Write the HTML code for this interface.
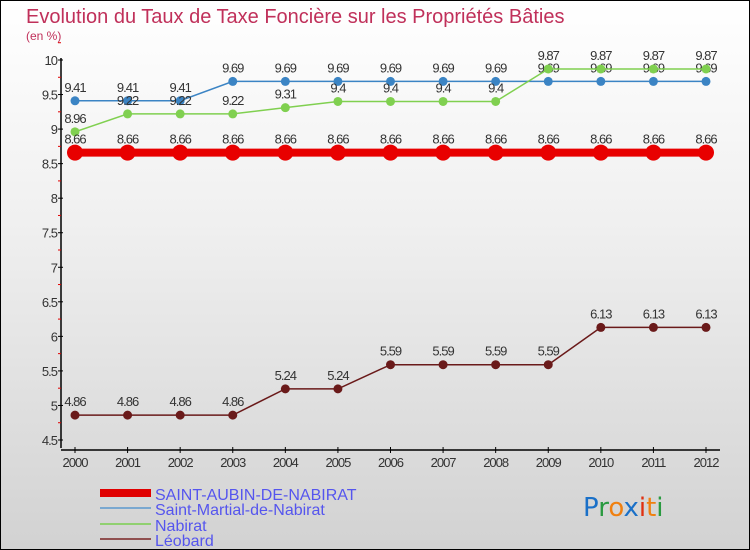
<!DOCTYPE html>
<html><head><meta charset="utf-8"><style>
body{margin:0;}
#c{width:748px;height:548px;border:1px solid #000;background:linear-gradient(#fff 0%,#f0f0f0 40%,#d2d2d2 100%);position:relative;overflow:hidden;font-family:"Liberation Sans",sans-serif;}
</style></head><body>
<div id="c">
<svg id="s" width="750" height="550" style="position:absolute;left:-1px;top:-1px" font-family="Liberation Sans, sans-serif">
<text x="26" y="23" font-size="20" fill="#c0305a">Evolution du Taux de Taxe Foncière sur les Propriétés Bâties</text>
<text x="26" y="40" font-size="12" fill="#c0305a">(en %)</text>
<g id="axes"></g><g id="series"></g>
<g>
<rect x="100" y="489" width="51" height="8" fill="#e00000"/>
<text x="155" y="500" font-size="16" fill="#5555ee">SAINT-AUBIN-DE-NABIRAT</text>
<rect x="100" y="507" width="51" height="2" fill="#7aa8d0"/>
<text x="155" y="515" font-size="16" fill="#5555ee">Saint-Martial-de-Nabirat</text>
<rect x="100" y="523" width="51" height="2" fill="#90d070"/>
<text x="155" y="531" font-size="16" fill="#5555ee">Nabirat</text>
<rect x="100" y="538" width="51" height="2" fill="#905050"/>
<text x="155" y="546" font-size="16" fill="#5555ee">Léobard</text>
</g>
<g font-size="26" font-family="DejaVu Sans, sans-serif">
<text x="583" y="516" fill="#1a70c8">P<tspan fill="#2a9a40">r</tspan><tspan fill="#f08010">o</tspan><tspan fill="#1a70c8">x</tspan><tspan fill="#e03010">i</tspan><tspan fill="#f08010">t</tspan><tspan fill="#2a9a40">i</tspan></text>
</g>
</svg>
</div>
<script>
const years=[2000,2001,2002,2003,2004,2005,2006,2007,2008,2009,2010,2011,2012];
const yTicks=[4.5,5,5.5,6,6.5,7,7.5,8,8.5,9,9.5,10];
const saintAubin=[8.66,8.66,8.66,8.66,8.66,8.66,8.66,8.66,8.66,8.66,8.66,8.66,8.66];
const saintMartial=[9.41,9.41,9.41,9.69,9.69,9.69,9.69,9.69,9.69,9.69,9.69,9.69,9.69];
const nabirat=[8.96,9.22,9.22,9.22,9.31,9.4,9.4,9.4,9.4,9.87,9.87,9.87,9.87];
const leobard=[4.86,4.86,4.86,4.86,5.24,5.24,5.59,5.59,5.59,5.59,6.13,6.13,6.13];
const NS="http://www.w3.org/2000/svg";
const X=i=>75+i*(706-75)/(years.length-1);
const Y=v=>440-(v-4.5)*(380/5.5);
function mk(t,a,p){const e=document.createElementNS(NS,t);for(const k in a)e.setAttribute(k,a[k]);p.appendChild(e);return e;}
const ax=document.getElementById('axes'),sr=document.getElementById('series');
const yl=mk('line',{x1:61,y1:58,x2:61,y2:448,stroke:'#000','stroke-width':1.5},ax);


const xl=mk('line',{x1:61,y1:450,x2:720,y2:450,stroke:'#000','stroke-width':1.5},ax);


yTicks.forEach(v=>{
 mk('line',{x1:58,y1:Y(v),x2:63,y2:Y(v),stroke:'#000'},ax);
 mk('line',{x1:58,y1:Y(v+0.25),x2:61,y2:Y(v+0.25),stroke:'#e00000'},ax);
 const t=mk('text',{x:57,y:Y(v)+5,'text-anchor':'end','font-size':13,fill:'#333','letter-spacing':'-1'},ax);
 t.textContent=String(v);
 
 
});
years.forEach((y,i)=>{
 mk('line',{x1:X(i),y1:447,x2:X(i),y2:453,stroke:'#000'},ax);
 const t=mk('text',{x:X(i),y:467,'text-anchor':'middle','font-size':13,fill:'#333','letter-spacing':'-1'},ax);
 t.textContent=String(y);
 
 
});
function series(data,color,width,r,name){
 const g=mk('g',{},sr);
 
 
 const pl=mk('polyline',{points:data.map((v,i)=>X(i)+','+Y(v)).join(' '),fill:'none',stroke:color,'stroke-width':width},g);
 
 
 data.forEach((v,i)=>{
  const c=mk('circle',{cx:X(i),cy:Y(v),r:r,fill:color},g);
  
  
  const t=mk('text',{x:X(i),y:Y(v)-9,'text-anchor':'middle','font-size':13,fill:'#333','letter-spacing':'-1'},g);
  t.textContent=String(v);
  
  
 });
}
series(saintMartial,'#3b84c4',1.5,4.5,'saint-martial');
series(nabirat,'#80d050',1.5,4.5,'nabirat');
series(leobard,'#6a1a1a',1.5,4.5,'leobard');
series(saintAubin,'#e80000',8,8,'saint-aubin');
</script>
</body></html>
